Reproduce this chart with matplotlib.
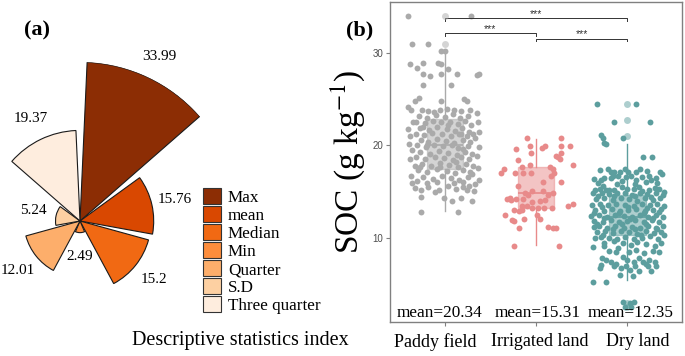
import numpy as np
import matplotlib
matplotlib.use("Agg")
import matplotlib.pyplot as plt
import matplotlib.transforms as mtransforms
from matplotlib.patches import Patch

plt.rcParams['font.family'] = ['Liberation Serif', 'DejaVu Serif']
plt.rcParams['mathtext.fontset'] = 'stix'

# ---- panel (a): descriptive statistics rose ----
stat_names = ["Max", "mean", "Median", "Min", "Quarter", "S.D", "Three quarter"]
stat_values = [33.99, 15.76, 15.2, 2.49, 12.01, 5.24, 19.37]
stat_colors = ["#8C2D04", "#D94801", "#F16913", "#FD8D3C", "#FDAE6B", "#FDD0A2", "#FEEDDE"]

# ---- panel (b): SOC by land use ----
land_types = ["Paddy field", "Irrigated land", "Dry land"]
land_means = [20.34, 15.31, 12.35]
land_colors = ["#AAAAAA", "#E88A8A", "#5C9E9E"]
# whislo, q1, med, q3, whishi
box_stats = [[12.9, 17.4, 20.0, 22.85, 30.2],
             [9.2, 13.2, 14.8, 17.7, 20.7],
             [5.4, 10.3, 12.2, 14.6, 20.2]]
outliers = [[34.0, 31.0], [], [24.5, 22.8, 21.0, 2.9, 2.5]]
# significance brackets: (from, to, height)
signif = [(1, 3, 33.8), (1, 2, 32.17), (2, 3, 31.6)]

# jittered samples (x offset from group centre, SOC)
paddy_pts = [
    (-0.40, 34.0), (0.29, 34.0), (-0.36, 31.0), (-0.18, 31.0), (-0.04, 30.2), (0.0, 30.2),
    (-0.38, 28.8), (-0.24, 28.9), (-0.07, 28.9), (-0.04, 28.8), (-0.30, 28.4), (-0.24, 27.8),
    (-0.16, 27.5), (-0.04, 27.8), (0.04, 28.3), (0.13, 27.8), (0.35, 27.6), (0.37, 27.8),
    (-0.24, 26.6), (0.07, 26.6), (-0.28, 25.1), (-0.33, 24.8), (-0.04, 24.8), (0.21, 25.0),
    (0.24, 24.8), (-0.40, 24.2), (-0.37, 23.9), (-0.25, 23.8), (-0.18, 23.7), (-0.05, 23.8),
    (0.02, 24.0), (0.10, 23.9), (0.18, 23.7), (0.28, 23.8), (-0.12, 23.6), (0.35, 23.5),
    (-0.40, 21.75), (-0.35, 22.5), (-0.38, 21.0), (0.36, 22.5), (0.38, 21.5), (0.33, 20.8),
    (-0.39, 20.2), (-0.36, 19.5), (0.37, 19.8), (0.35, 18.9), (-0.38, 18.5), (-0.33, 17.8),
    (0.36, 17.6), (0.30, 16.9), (-0.37, 16.7), (-0.30, 16.2), (-0.36, 15.9), (0.38, 16.3),
    (0.33, 15.8), (-0.26, 15.2), (-0.18, 15.5), (-0.06, 15.2), (0.04, 15.6), (0.12, 15.3),
    (0.20, 15.5), (0.27, 15.6), (0.32, 15.1), (0.24, 15.2), (-0.11, 15.0), (-0.33, 15.4),
    (-0.26, 14.4), (-0.01, 14.3), (0.08, 14.0), (0.18, 14.3), (0.30, 14.0),
    (-0.26, 12.8), (0.15, 12.8),
    (-0.28, 23.2), (-0.20, 23.0), (-0.10, 23.3), (0.00, 23.1), (0.09, 23.4), (0.17, 23.0), (0.25, 23.2),
    (-0.31, 22.6), (-0.22, 22.4), (-0.13, 22.7), (-0.04, 22.5), (0.06, 22.6), (0.14, 22.3), (0.22, 22.7), (0.29, 22.2),
    (-0.27, 21.9), (-0.17, 21.7), (-0.08, 22.0), (0.02, 21.8), (0.11, 21.6), (0.19, 21.9), (0.27, 21.5),
    (-0.32, 21.3), (-0.23, 21.1), (-0.14, 21.4), (-0.03, 21.2), (0.07, 21.0), (0.16, 21.3), (0.24, 21.0), (0.31, 21.2),
    (-0.26, 20.6), (-0.18, 20.4), (-0.09, 20.7), (0.01, 20.5), (0.10, 20.3), (0.20, 20.6), (0.28, 20.4),
    (-0.30, 20.0), (-0.21, 19.8), (-0.12, 20.1), (-0.02, 19.9), (0.08, 20.0), (0.15, 19.7), (0.25, 19.9),
    (-0.27, 19.3), (-0.16, 19.1), (-0.06, 19.4), (0.04, 19.2), (0.13, 19.0), (0.22, 19.3), (0.30, 19.1),
    (-0.31, 18.7), (-0.22, 18.5), (-0.11, 18.8), (-0.01, 18.6), (0.09, 18.4), (0.18, 18.7), (0.27, 18.5),
    (-0.25, 18.0), (-0.15, 17.8), (-0.05, 18.1), (0.05, 17.9), (0.14, 17.7), (0.23, 18.0), (0.31, 17.8),
    (-0.29, 17.3), (-0.19, 17.1), (-0.08, 17.4), (0.02, 17.2), (0.11, 17.0), (0.20, 17.3), (0.28, 17.1),
    (-0.24, 16.6), (-0.13, 16.4), (-0.03, 16.7), (0.07, 16.5), (0.16, 16.3), (0.25, 16.6),
    (-0.20, 15.9), (-0.08, 16.0), (0.10, 15.9), (0.20, 16.0),
    (-0.24, 22.0), (0.04, 22.2), (-0.19, 20.0), (0.18, 21.2), (-0.05, 17.7), (0.12, 18.2),
    (0.20, 19.6), (-0.27, 17.7),
]
irrig_pts = [
    (-0.10, 20.8), (0.27, 20.8), (-0.22, 19.6), (-0.07, 19.95), (-0.05, 19.15), (0.07, 19.7),
    (0.10, 19.95), (0.27, 19.95), (0.37, 19.95), (0.27, 19.2), (0.24, 18.8), (0.26, 18.5),
    (0.22, 18.9), (-0.20, 18.4), (0.41, 17.9), (-0.35, 17.4), (-0.38, 17.0), (-0.23, 17.0),
    (-0.15, 17.7), (-0.07, 17.9), (-0.14, 17.0), (-0.06, 17.0), (0.15, 17.7), (0.19, 17.4),
    (0.20, 17.0), (0.08, 16.0), (0.16, 16.7), (0.27, 16.0), (-0.04, 15.1), (0.08, 15.1),
    (0.19, 14.9), (-0.32, 14.2), (-0.27, 14.1), (-0.22, 14.2), (-0.14, 14.15), (-0.09, 14.6),
    (-0.04, 13.9), (0.04, 14.0), (0.41, 13.7), (0.35, 13.4), (-0.15, 13.4), (-0.10, 13.4),
    (-0.04, 13.2), (0.02, 13.2), (0.09, 13.2), (0.17, 13.2), (-0.24, 13.0), (-0.19, 12.9),
    (-0.15, 13.0), (-0.34, 12.45), (0.01, 12.45), (-0.26, 11.9), (-0.24, 11.8), (-0.13, 12.0),
    (0.04, 12.0), (-0.19, 11.0), (0.13, 11.2), (0.19, 11.1), (0.22, 11.0), (-0.24, 9.15),
    (0.25, 9.15), (-0.12, 14.8), (0.13, 14.6), (-0.20, 15.6), (0.10, 14.1), (-0.29, 14.3),
]
dry_pts = [
    (-0.33, 24.5), (0.10, 24.5), (-0.15, 22.6), (0.25, 22.6), (-0.29, 21.1), (-0.27, 20.8),
    (-0.25, 20.3), (-0.23, 20.2), (-0.05, 20.85), (0.17, 18.7), (0.27, 18.7),
    (-0.21, 17.45), (-0.18, 17.15), (-0.14, 17.15), (-0.08, 17.15), (0.01, 17.15), (0.10, 17.15),
    (0.14, 17.45), (0.36, 17.15), (-0.30, 17.3), (-0.02, 17.4), (0.22, 17.2),
    (-0.36, 16.4), (-0.29, 16.3), (-0.25, 16.5), (-0.18, 16.5), (-0.16, 16.7), (-0.10, 16.7),
    (-0.01, 16.6), (0.04, 16.7), (0.10, 16.3), (0.16, 16.6), (0.24, 16.7), (0.26, 16.3),
    (0.31, 16.5), (0.38, 16.9), (-0.06, 16.1), (0.20, 16.0), (-0.32, 15.9),
    (-0.35, 15.2), (-0.30, 15.3), (-0.23, 15.2), (-0.20, 15.2), (-0.15, 15.2), (-0.06, 15.5),
    (0.0, 15.3), (0.07, 15.3), (0.13, 15.5), (0.16, 15.1), (0.24, 15.2), (0.30, 15.4),
    (0.35, 15.3), (-0.27, 15.6), (0.40, 15.0), (-0.11, 15.8), (0.09, 15.8), (0.33, 15.9),
    (-0.38, 14.8), (-0.28, 14.9), (-0.20, 14.7), (-0.11, 14.9), (-0.03, 14.8), (0.05, 14.6),
    (0.14, 14.9), (0.22, 14.7), (0.32, 14.8), (0.39, 14.6),
    (-0.34, 14.2), (-0.25, 14.3), (-0.16, 14.1), (-0.07, 14.3), (0.02, 14.2), (0.11, 14.0),
    (0.19, 14.3), (0.28, 14.1), (0.36, 14.3),
    (-0.39, 13.6), (-0.30, 13.7), (-0.21, 13.5), (-0.12, 13.7), (-0.02, 13.6), (0.07, 13.4),
    (0.16, 13.7), (0.25, 13.5), (0.33, 13.7), (0.40, 13.4),
    (-0.35, 13.0), (-0.26, 12.9), (-0.17, 13.1), (-0.08, 12.9), (0.01, 13.0), (0.10, 13.1),
    (0.19, 12.9), (0.28, 13.0), (0.37, 13.1),
    (-0.40, 12.4), (-0.31, 12.5), (-0.22, 12.3), (-0.13, 12.5), (-0.04, 12.4), (0.05, 12.2),
    (0.14, 12.5), (0.23, 12.3), (0.32, 12.5), (0.39, 12.2),
    (-0.36, 11.8), (-0.27, 11.7), (-0.18, 11.9), (-0.09, 11.7), (0.00, 11.8), (0.09, 11.9),
    (0.18, 11.7), (0.27, 11.9), (0.35, 11.7),
    (-0.31, 11.3), (-0.22, 11.1), (-0.13, 11.3), (-0.04, 11.1), (0.05, 11.2), (0.14, 11.0),
    (0.23, 11.3), (0.31, 11.1), (0.39, 11.3),
    (-0.33, 10.6), (-0.24, 10.7), (-0.16, 10.5), (-0.07, 10.7), (0.02, 10.6), (0.11, 10.4),
    (0.20, 10.7), (0.29, 10.5), (0.37, 10.6),
    (-0.20, 10.0), (-0.11, 9.9), (-0.02, 10.1), (0.07, 9.9), (0.16, 10.0), (0.25, 10.2),
    (0.34, 9.9), (0.40, 10.3),
    (-0.05, 9.4), (0.04, 9.2), (0.11, 9.5), (0.21, 9.3), (0.30, 9.1), (0.37, 9.4),
    (-0.20, 8.6), (0.02, 8.4), (0.10, 8.7), (0.18, 8.3), (0.28, 8.6), (0.35, 8.4),
    (-0.32, 14.5), (-0.14, 14.5), (0.08, 14.5), (0.26, 14.4), (-0.28, 13.3), (0.01, 13.3),
    (0.22, 13.2), (-0.36, 12.7), (-0.09, 12.7), (0.18, 12.7), (0.35, 12.8), (-0.25, 12.1),
    (0.03, 12.0), (0.28, 12.1), (-0.33, 11.5), (-0.06, 11.5), (0.21, 11.5), (-0.16, 10.9),
    (0.08, 10.9), (0.33, 10.9), (-0.27, 10.3), (0.15, 10.3),
    (-0.36, 11.2), (-0.35, 10.0), (-0.29, 10.1), (-0.26, 9.4), (-0.25, 9.15), (-0.37, 9.0),
    (-0.15, 9.6), (-0.10, 8.85), (-0.12, 8.5), (-0.28, 7.85), (-0.23, 7.6), (-0.18, 7.4),
    (-0.29, 7.0), (-0.30, 6.7), (-0.05, 7.9), (0.00, 7.6), (0.07, 7.4), (0.13, 7.8),
    (0.17, 7.4), (0.20, 7.2), (0.24, 7.6), (0.30, 7.4), (0.32, 6.9), (-0.15, 6.9),
    (-0.12, 7.1), (-0.07, 6.7), (-0.01, 6.9), (0.09, 6.9), (0.13, 6.4), (0.23, 6.9),
    (0.26, 6.4), (-0.08, 5.95), (0.03, 6.5), (0.06, 5.8), (-0.38, 5.2), (-0.23, 5.2),
    (-0.05, 3.0), (0.03, 2.9), (0.07, 3.0), (-0.02, 2.5), (0.04, 2.5),
]
group_pts = [paddy_pts, irrig_pts, dry_pts]

W, H = 685, 356
fig = plt.figure(figsize=(W / 100, H / 100), dpi=100)

# ---------------- (a) ----------------
cx, cy, rad = 80, 356 - 221, 159
ax1 = fig.add_axes([(cx - rad) / W, (cy - rad) / H, 2 * rad / W, 2 * rad / H], projection='polar')
ax1.set_theta_zero_location('N')
ax1.set_theta_direction(-1)
n = len(stat_values)
step = 2 * np.pi / n
theta = (np.arange(n) + 0.5) * step
ax1.bar(theta, stat_values, width=0.9 * step, bottom=0, color=stat_colors,
        edgecolor='#1a1a1a', linewidth=0.8)
for t, v in zip(theta, stat_values):
    ax1.text(t, v + 5, str(v), ha='center', va='center', fontsize=11)
ax1.set_ylim(0, 34)
ax1.axis('off')

handles = [Patch(facecolor=c, edgecolor='#333333', linewidth=0.8) for c in stat_colors]
fig.legend(handles, stat_names, loc='upper left', bbox_to_anchor=(203 / W, 1 - 188 / H),
           frameon=False, fontsize=12.3, handlelength=1.05, handleheight=1.1,
           labelspacing=0.0, handletextpad=0.4, borderpad=0, borderaxespad=0)

fig.text(37 / W, 1 - 30 / H, "(a)", fontsize=16, fontweight='bold', ha='center', va='center')
fig.text(240 / W, 1 - 340 / H, "Descriptive statistics index", fontsize=14.5, ha='center', va='center')

# ---------------- (b) ----------------
ax2 = fig.add_axes([390 / W, 34 / H, 292 / W, 320 / H])
for i, (pts, col) in enumerate(zip(group_pts, land_colors)):
    arr = np.array(pts)
    ax2.scatter(i + 1 + arr[:, 0], arr[:, 1], s=18, color=col, linewidths=0, zorder=2)

stats = []
for (lo, q1, med, q3, hi), fl in zip(box_stats, outliers):
    stats.append(dict(whislo=lo, q1=q1, med=med, q3=q3, whishi=hi, fliers=fl))
bp = ax2.bxp(stats, positions=[1, 2, 3], widths=0.4, patch_artist=True, showcaps=False,
             manage_ticks=False, zorder=3)
for i, col in enumerate(land_colors):
    bp['boxes'][i].set(facecolor=col, alpha=0.5, edgecolor=col, linewidth=1.0)
    bp['medians'][i].set(color=col, linewidth=1.2)
    for w in bp['whiskers'][2 * i:2 * i + 2]:
        w.set(color=col, linewidth=1.0)
    bp['fliers'][i].set(marker='o', markerfacecolor=col, markeredgecolor='none',
                        markersize=5, alpha=0.5)

for x0, x1, y in signif:
    ax2.plot([x0, x0, x1, x1], [y - 0.3, y, y, y - 0.3], color='#333333', linewidth=0.7)
    ax2.text((x0 + x1) / 2, y - 0.05, "***", ha='center', va='bottom', fontsize=7.5,
             color='#333333', family='Liberation Sans')

# text nudges in pixels (the original labels are not exactly centred on the groups)
mean_nudge = [-5, 2, 3]
label_nudge = [-10, 4, 11]
for i, m in enumerate(land_means):
    off = mtransforms.ScaledTranslation(mean_nudge[i] / 100, 0, fig.dpi_scale_trans)
    ax2.text(i + 1, 1.85, f"mean={m:.2f}", ha='center', va='center', fontsize=12.4,
             transform=ax2.transData + off)

ax2.set_xlim(0.4, 3.6)
ax2.set_ylim(0.86, 35.56)
ax2.set_xticks([1, 2, 3])
ax2.set_xticklabels([])
xlab_tr = mtransforms.blended_transform_factory(ax2.transData, ax2.transAxes)
for i, name in enumerate(land_types):
    off = mtransforms.ScaledTranslation(label_nudge[i] / 100, 0, fig.dpi_scale_trans)
    ax2.text(i + 1, -0.0625, name, ha='center', va='center', fontsize=13,
             transform=xlab_tr + off, clip_on=False)
ax2.set_yticks([10, 20, 30])
for lab in ax2.get_yticklabels():
    lab.set_fontfamily('Liberation Sans')
ax2.tick_params(axis='y', length=3, width=0.8, color='#808080', labelcolor='#4D4D4D',
                labelsize=7, pad=2)
ax2.tick_params(axis='x', length=3, width=0.8, color='#808080')
for sp in ax2.spines.values():
    sp.set_color('#808080')
    sp.set_linewidth(1.0)
ax2.set_ylabel("SOC (g kg$^{-1}$)", fontsize=24, labelpad=4)

fig.text(360 / W, 1 - 30 / H, "(b)", fontsize=16, fontweight='bold', ha='center', va='center')

fig.savefig("out.png", dpi=100)
